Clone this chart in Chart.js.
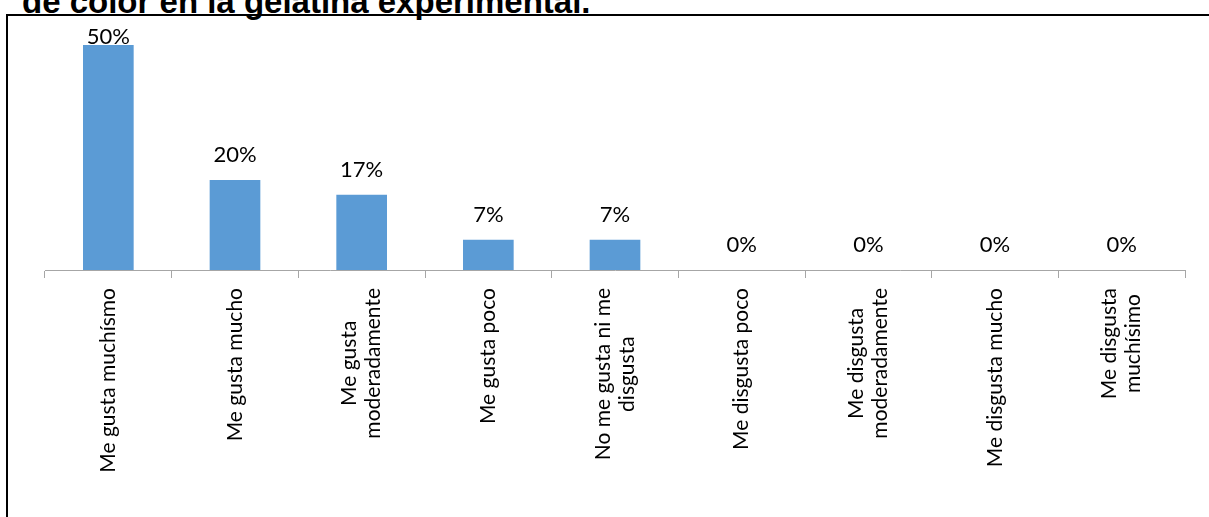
<!DOCTYPE html>
<html lang="es">
<head>
    <meta charset="UTF-8">
    <title>Gelatina experimental - color</title>
    <script src="https://cdn.jsdelivr.net/npm/chart.js"></script>
    <style>
        html, body {
            margin: 0;
            padding: 0;
            background: #fff;
            overflow: hidden;
        }
        #titulo {
            position: absolute;
            left: 22px;
            top: -15px;
            margin: 0;
            font: bold 33px "Liberation Sans", Arial, sans-serif;
            line-height: 33px;
            color: #000;
            white-space: nowrap;
        }
        #marco {
            position: absolute;
            left: 6px;
            top: 14px;
            width: 1300px;
            height: 600px;
            border-top: 2px solid #000;
            border-left: 2px solid #000;
        }
        #grafico {
            position: absolute;
            left: 0;
            top: 0;
        }
    </style>
</head>
<body>
    <div id="titulo">de color en la gelatina experimental.</div>
    <div id="marco"></div>
    <canvas id="grafico" width="1209" height="517"></canvas>

    <script>
        // categorías (las que tienen dos renglones van como arreglo)
        const categorias = [
            'Me gusta muchísmo',
            'Me gusta mucho',
            ['Me gusta', 'moderadamente'],
            'Me gusta poco',
            ['No me gusta ni me', 'disgusta'],
            'Me disgusta poco',
            ['Me disgusta', 'moderadamente'],
            'Me disgusta mucho',
            ['Me disgusta', 'muchísimo']
        ];

        // porcentaje de respuestas
        const porcentajes = [50, 20, 16.7, 6.7, 6.7, 0, 0, 0, 0];

        const colorBarra = '#5B9BD5';
        const colorEje = '#A6A6A6';
        const fuente = 'Lato, "Open Sans", sans-serif';

        // etiquetas de datos encima de cada barra
        const etiquetasDatos = {
            id: 'etiquetasDatos',
            afterDatasetsDraw(chart) {
                const ctx = chart.ctx;
                const meta = chart.getDatasetMeta(0);
                ctx.save();
                ctx.font = '22px ' + fuente;
                ctx.fillStyle = '#000';
                ctx.textAlign = 'center';
                ctx.textBaseline = 'middle';
                meta.data.forEach((barra, i) => {
                    const y = Math.max(barra.y - 25, chart.chartArea.top - 8);
                    ctx.fillText(Math.round(porcentajes[i]) + '%', barra.x, y);
                });
                ctx.restore();
            }
        };

        // etiquetas del eje x giradas, renglones centrados entre sí
        const etiquetasEje = {
            id: 'etiquetasEje',
            afterDraw(chart) {
                const ctx = chart.ctx;
                const escala = chart.scales.x;
                const ejeY = chart.chartArea.bottom;
                const alto = 24;
                ctx.save();
                ctx.font = '21px ' + fuente;
                ctx.fillStyle = '#000';
                ctx.textAlign = 'center';
                ctx.textBaseline = 'middle';
                categorias.forEach((cat, i) => {
                    const renglones = Array.isArray(cat) ? cat : [cat];
                    const largo = Math.max(...renglones.map(r => ctx.measureText(r).width));
                    const x = escala.getPixelForValue(i);
                    ctx.save();
                    ctx.translate(x, ejeY + 18 + largo / 2);
                    ctx.rotate(-Math.PI / 2);
                    renglones.forEach((r, k) => {
                        ctx.fillText(r, 0, (k - (renglones.length - 1) / 2) * alto);
                    });
                    ctx.restore();
                });
                ctx.restore();
            }
        };

        new Chart(document.getElementById('grafico'), {
            type: 'bar',
            data: {
                labels: categorias,
                datasets: [{
                    data: porcentajes,
                    backgroundColor: colorBarra,
                    borderWidth: 0,
                    categoryPercentage: 1,
                    barPercentage: 0.4
                }]
            },
            options: {
                responsive: false,
                animation: false,
                layout: {
                    padding: { left: 45, right: 24, top: 45, bottom: 0 }
                },
                plugins: {
                    legend: { display: false },
                    tooltip: { enabled: false }
                },
                scales: {
                    x: {
                        offset: true,
                        grid: {
                            offset: true,
                            drawOnChartArea: false,
                            drawTicks: true,
                            tickLength: 8,
                            color: colorEje
                        },
                        border: { display: true, color: colorEje, width: 1 },
                        ticks: {
                            autoSkip: false,
                            maxRotation: 0,
                            callback: () => ''
                        },
                        afterFit(escala) {
                            escala.height = 517 - 270;
                        }
                    },
                    y: {
                        display: false,
                        min: 0,
                        max: 50
                    }
                }
            },
            plugins: [etiquetasDatos, etiquetasEje]
        });
    </script>
</body>
</html>
